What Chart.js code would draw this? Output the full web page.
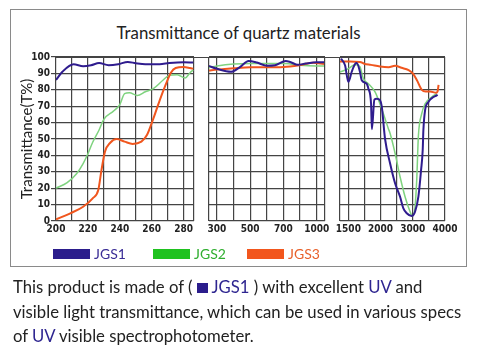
<!DOCTYPE html>
<html>
<head>
<meta charset="utf-8">
<script src="https://cdn.jsdelivr.net/npm/chart.js@4/dist/chart.umd.min.js"></script>
<style>
    body { margin: 0; background: #fff; }
    #wrap { position: relative; width: 480px; height: 350px; overflow: hidden; font-family: Lato, "Noto Sans", sans-serif; color: #222; }
    #frame { position: absolute; left: 10px; top: 9px; width: 457px; height: 258px; border: 1px solid #8a8a8a; box-sizing: border-box; }
    #title { position: absolute; left: 10px; width: 457px; top: 22px; text-align: center; font-size: 16.8px; }
    canvas { position: absolute; left: 0; top: 0; }
    #topline { position: absolute; left: 56px; top: 57px; width: 389px; height: 1px; background: #444; }
    .key { position: absolute; top: 245px; display: flex; align-items: center; gap: 4px; font-size: 14px; }
    .key i { display: inline-block; width: 37px; height: 10px; }
    #note { position: absolute; left: 13px; top: 275px; font-size: 16.7px; line-height: 24.5px; white-space: nowrap; }
    .uv { color: #2e2590; }
    .sq { display: inline-block; width: 11px; height: 10px; background: #2b1d8c; }
</style>
</head>
<body>
<div id="wrap">
    <div id="frame"></div>
    <div id="title">Transmittance of quartz materials</div>
    <canvas id="p1" width="480" height="270"></canvas>
    <canvas id="p2" width="480" height="270"></canvas>
    <canvas id="p3" width="480" height="270"></canvas>
    <div id="topline"></div>
    <div class="key" style="left:53px"><i style="background:#2b1d8c"></i><span style="color:#3a2d96">JGS1</span></div>
    <div class="key" style="left:153px"><i style="background:#1fc21f"></i><span style="color:#2fae2f">JGS2</span></div>
    <div class="key" style="left:247px"><i style="background:#f2561d"></i><span style="color:#e8602a">JGS3</span></div>
    <div id="note">
        This product is made of ( <span class="sq"></span> <span class="uv">JGS1</span> ) with excellent <span class="uv">UV</span> and<br>
        visible light transmittance, which can be used in various specs<br>
        of <span class="uv">UV</span> visible spectrophotometer.
    </div>
</div>
<script>

// grid lines (nm) and labelled ticks for each of the three broken-axis panels
const p1Grid = [200, 210, 220, 230, 240, 250, 260, 270, 280]
const p1Labels = [200, 220, 240, 260, 280]
const p1Range = [200, 286.5]

const p2Grid = [300, 400, 500, 600, 700, 850, 1000]
const p2Labels = [300, 500, 700, 1000]
const p2Range = [252, 1075]

const p3Grid = [1500, 1750, 2000, 2500, 3000, 3500, 4000]
const p3Labels = [1500, 2000, 3000, 4000]
const p3Range = [1370, 4000]

const yTicks = [0, 10, 20, 30, 40, 50, 60, 70, 80, 90, 100]

// panel 1 : 200 - 286 nm
const p1Jgs1X = [200, 204, 211, 217, 222, 227, 233, 239, 245, 250, 256, 265, 271, 280, 286]
const p1Jgs1Y = [86, 91, 95.6, 94.4, 95, 96.3, 95, 95.6, 97, 96.2, 95.6, 95.6, 96.3, 96.8, 96.6]
const p1Jgs2X = [200, 207, 213, 217, 220, 223, 227, 230, 236, 240, 243, 246, 251, 256, 261, 267, 271, 276, 281, 284, 286]
const p1Jgs2Y = [20, 23.4, 29, 35, 41, 48, 55.5, 62, 67, 71, 77.6, 78.2, 76.6, 78.8, 80.7, 85.8, 88.8, 89.2, 87.2, 90.4, 92]
const p1Jgs3X = [200, 209, 217, 223, 226.5, 228.5, 230.7, 234, 238, 243, 248, 253.5, 257, 261, 265, 269, 272, 275, 280, 284, 286]
const p1Jgs3Y = [1, 4.7, 8.7, 13.8, 18.9, 31, 42.3, 47.7, 50, 48.4, 47, 48.4, 52.4, 62.4, 73.6, 83.7, 90.4, 93.3, 93.9, 93.3, 92.9]

// panel 2 : 300 - 1000 nm
const p2Jgs1X = [252, 300, 385, 440, 490, 540, 600, 650, 720, 760, 830, 900, 1000, 1066]
const p2Jgs1Y = [94.5, 92.8, 91, 94, 97.5, 96.6, 94.7, 95, 97.6, 97, 95.2, 96, 96.8, 96.8]
const p2Jgs2X = [252, 300, 400, 500, 600, 700, 760, 850, 1000, 1066]
const p2Jgs2Y = [93.5, 94.5, 95.7, 96, 96, 96.1, 95.8, 95, 94.5, 94.5]
const p2Jgs3X = [252, 300, 400, 500, 600, 700, 850, 970, 1066]
const p2Jgs3Y = [91.8, 92.3, 93.1, 93.7, 93.7, 93.9, 95.1, 96.5, 95.7]

// panel 3 : 1500 - 4000 nm
const p3Jgs1X = [1386, 1448, 1500, 1552, 1604, 1629, 1681, 1707, 1785, 1811, 1852, 1865, 1904, 1940, 1992, 2035, 2139, 2294, 2450, 2605, 2708, 2812, 2967, 3070, 3174, 3257, 3308, 3329, 3381, 3484, 3640, 3743, 3770]
const p3Jgs1Y = [99, 95, 84.8, 91, 95.7, 96.3, 90.8, 85.8, 83.7, 80.7, 71.5, 55.9, 74, 74.6, 73.6, 70, 50, 35.2, 23, 14.8, 7.7, 4.7, 3, 5.7, 14.8, 31, 43.3, 55.5, 67.5, 72.6, 75.6, 76.6, 77]
const p3Jgs2X = [1370, 1500, 1578, 1629, 1681, 1733, 1811, 1914, 2035, 2242, 2294, 2450, 2605, 2760, 2915, 2988, 3070, 3122, 3174, 3277, 3381, 3588, 3743]
const p3Jgs2Y = [90.8, 92.9, 95, 95.3, 94, 86.8, 83.7, 78.7, 68.5, 56.3, 53.5, 41.3, 27, 14.8, 5.7, 3, 8.7, 25, 52, 65.4, 71.5, 75.6, 77.6]
const p3Jgs3X = [1370, 1500, 1680, 1750, 1850, 1990, 2250, 2450, 2650, 2870, 3000, 3125, 3280, 3400, 3535, 3725, 3770, 3800]
const p3Jgs3Y = [97.3, 97.2, 97, 95.8, 95.2, 94.2, 93.8, 94.6, 93.4, 92, 90, 86, 80, 79, 79, 78.2, 79, 83]

const colors = {
    jgs1: "#2f1c8e",
    jgs2: "#7fd37f",
    jgs3: "#f0561e"
}

const gridColor = "#444"
const tickFont = { family: "'Liberation Sans Narrow', 'DejaVu Sans Condensed', sans-serif", size: 10, weight: "bold" }

// wavelength -> position along the evenly spaced grid lines
function toIdx(w, grid) {

    let i = 0

    while (i < grid.length - 2 && w > grid[i + 1]) {
        i++
    }

    return i + (w - grid[i]) / (grid[i + 1] - grid[i])

}

function points(xs, ys, grid) {

    return xs.map((w, i) => ({ x: toIdx(w, grid), y: ys[i] }))

}

function line(data, color, width) {

    return {
        data: data,
        borderColor: color,
        borderWidth: width,
        pointRadius: 0,
        fill: false,
        cubicInterpolationMode: "monotone"
    }

}

function makePanel(id, panel) {

    const lo = toIdx(panel.range[0], panel.grid)
    const hi = toIdx(panel.range[1], panel.grid)

    const gridIdx = panel.grid.map((w, i) => i)

    if (lo < 0) gridIdx.unshift(lo)
    if (hi > gridIdx[gridIdx.length - 1]) gridIdx.push(hi)

    return new Chart(document.getElementById(id), {

        type: "line",

        data: {
            datasets: [
                line(points(panel.jgs1[0], panel.jgs1[1], panel.grid), colors.jgs1, 2),
                line(points(panel.jgs3[0], panel.jgs3[1], panel.grid), colors.jgs3, 2),
                line(points(panel.jgs2[0], panel.jgs2[1], panel.grid), colors.jgs2, 1.5)
            ]
        },

        options: {

            responsive: false,
            animation: false,
            events: [],

            layout: {
                padding: { left: panel.padLeft, right: 480 - panel.right, top: 57, bottom: 270 - 221 - 18 }
            },

            plugins: {
                legend: { display: false },
                tooltip: { enabled: false }
            },

            scales: {

                x: {
                    type: "linear",
                    min: lo,
                    max: hi,
                    afterBuildTicks: (scale) => {
                        scale.ticks = gridIdx.map(v => ({ value: v }))
                    },
                    afterFit: (scale) => {
                        scale.height = 18
                    },
                    ticks: {
                        autoSkip: false,
                        minRotation: 0,
                        maxRotation: 0,
                        padding: 2,
                        color: "#222",
                        font: tickFont,
                        callback: (v) => {
                            const w = panel.grid[v]
                            return panel.labels.includes(w) ? String(w) : ""
                        }
                    },
                    grid: { color: gridColor, lineWidth: 1.2, drawTicks: false },
                    border: { display: false }
                },

                y: {
                    min: 0,
                    max: 100,
                    afterBuildTicks: (scale) => {
                        scale.ticks = yTicks.map(v => ({ value: v }))
                    },
                    afterFit: (scale) => {
                        scale.width = panel.axisWidth
                    },
                    title: {
                        display: panel.showAxis,
                        text: "Transmittance(T%)",
                        color: "#222",
                        font: { family: "Lato, 'Noto Sans', sans-serif", size: 15 },
                        padding: { top: 4, bottom: 0 }
                    },
                    ticks: {
                        display: panel.showAxis,
                        padding: 1,
                        color: "#222",
                        font: tickFont
                    },
                    grid: { color: gridColor, lineWidth: 1.2, drawTicks: panel.showAxis, tickLength: 5 },
                    border: { display: false }
                }

            }

        }

    })

}

window.addEventListener("load", () => {

    makePanel("p1", {
        grid: p1Grid, labels: p1Labels, range: p1Range,
        jgs1: [p1Jgs1X, p1Jgs1Y], jgs2: [p1Jgs2X, p1Jgs2Y], jgs3: [p1Jgs3X, p1Jgs3Y],
        padLeft: 14, axisWidth: 42, right: 194, showAxis: true
    })

    makePanel("p2", {
        grid: p2Grid, labels: p2Labels, range: p2Range,
        jgs1: [p2Jgs1X, p2Jgs1Y], jgs2: [p2Jgs2X, p2Jgs2Y], jgs3: [p2Jgs3X, p2Jgs3Y],
        padLeft: 209, axisWidth: 0, right: 325, showAxis: false
    })

    makePanel("p3", {
        grid: p3Grid, labels: p3Labels, range: p3Range,
        jgs1: [p3Jgs1X, p3Jgs1Y], jgs2: [p3Jgs2X, p3Jgs2Y], jgs3: [p3Jgs3X, p3Jgs3Y],
        padLeft: 340, axisWidth: 0, right: 445, showAxis: false
    })

})

</script>
</body>
</html>
